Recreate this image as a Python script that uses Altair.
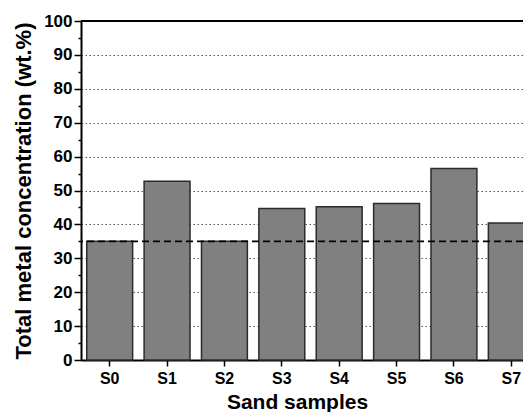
import altair as alt
import pandas as pd

samples = ["S0", "S1", "S2", "S3", "S4", "S5", "S6", "S7"]
concentration = [35.0, 52.7, 35.0, 44.7, 45.2, 46.2, 56.5, 40.4]
reference_level = [35.0]
top_frame = [100.0]
major_ticks = [0, 10, 20, 30, 40, 50, 60, 70, 80, 90, 100]
minor_ticks = [5, 15, 25, 35, 45, 55, 65, 75, 85, 95]

FONT = "Liberation Sans"

df = pd.DataFrame({"sample": samples, "conc": concentration})
ref_df = pd.DataFrame({"level": reference_level})
top_df = pd.DataFrame({"level": top_frame})

x_scale = alt.Scale(domain=samples, range=[0, 459], paddingInner=0.2, paddingOuter=0.1)
y_scale = alt.Scale(domain=[0, 100], nice=False, zero=True)

bars = alt.Chart(df).mark_bar(fill="#808080", stroke="#2b2b2b", strokeWidth=1.5).encode(
    x=alt.X("sample:N", scale=x_scale, sort=samples,
            axis=alt.Axis(title="Sand samples", labelAngle=0, titleX=216, titleY=48,
                          titleFontSize=21, titleAlign="center", titleBaseline="alphabetic")),
    y=alt.Y("conc:Q", scale=y_scale,
            axis=alt.Axis(title="Total metal concentration (wt.%)", values=major_ticks,
                          orient="left", tickSize=7, grid=True, gridDash=[1.5, 2.5],
                          gridColor="#555555", gridWidth=1.2, labelPadding=2,
                          labelFontSize=17, titleFontSize=22, titlePadding=8)),
)

ref_line = alt.Chart(ref_df).mark_rule(color="black", strokeWidth=1.8, strokeDash=[7, 4]).encode(
    y=alt.Y("level:Q", scale=y_scale,
            axis=alt.Axis(values=minor_ticks, orient="left", tickSize=3, labels=False,
                          domain=False, grid=False, title=None)),
)

top_line = alt.Chart(top_df).mark_rule(color="black", strokeWidth=2).encode(
    y=alt.Y("level:Q", scale=y_scale, axis=None),
)

chart = alt.layer(bars, ref_line, top_line).resolve_axis(y="independent").properties(
    width=442, height=339,
    autosize=alt.AutoSizeParams(type="none"),
    padding={"left": 73, "top": 13, "right": 0, "bottom": 52},
).configure_view(strokeWidth=0).configure_axis(
    domainColor="black", domainWidth=2, tickColor="black", tickWidth=1.5,
    labelFont=FONT, labelFontWeight="bold", labelFontSize=16, labelColor="black",
    titleFont=FONT, titleFontWeight="bold", titleColor="black",
).configure_axisX(tickSize=6, labelPadding=4)

chart.save("out.html", embed_options={"renderer": "svg", "actions": False})
